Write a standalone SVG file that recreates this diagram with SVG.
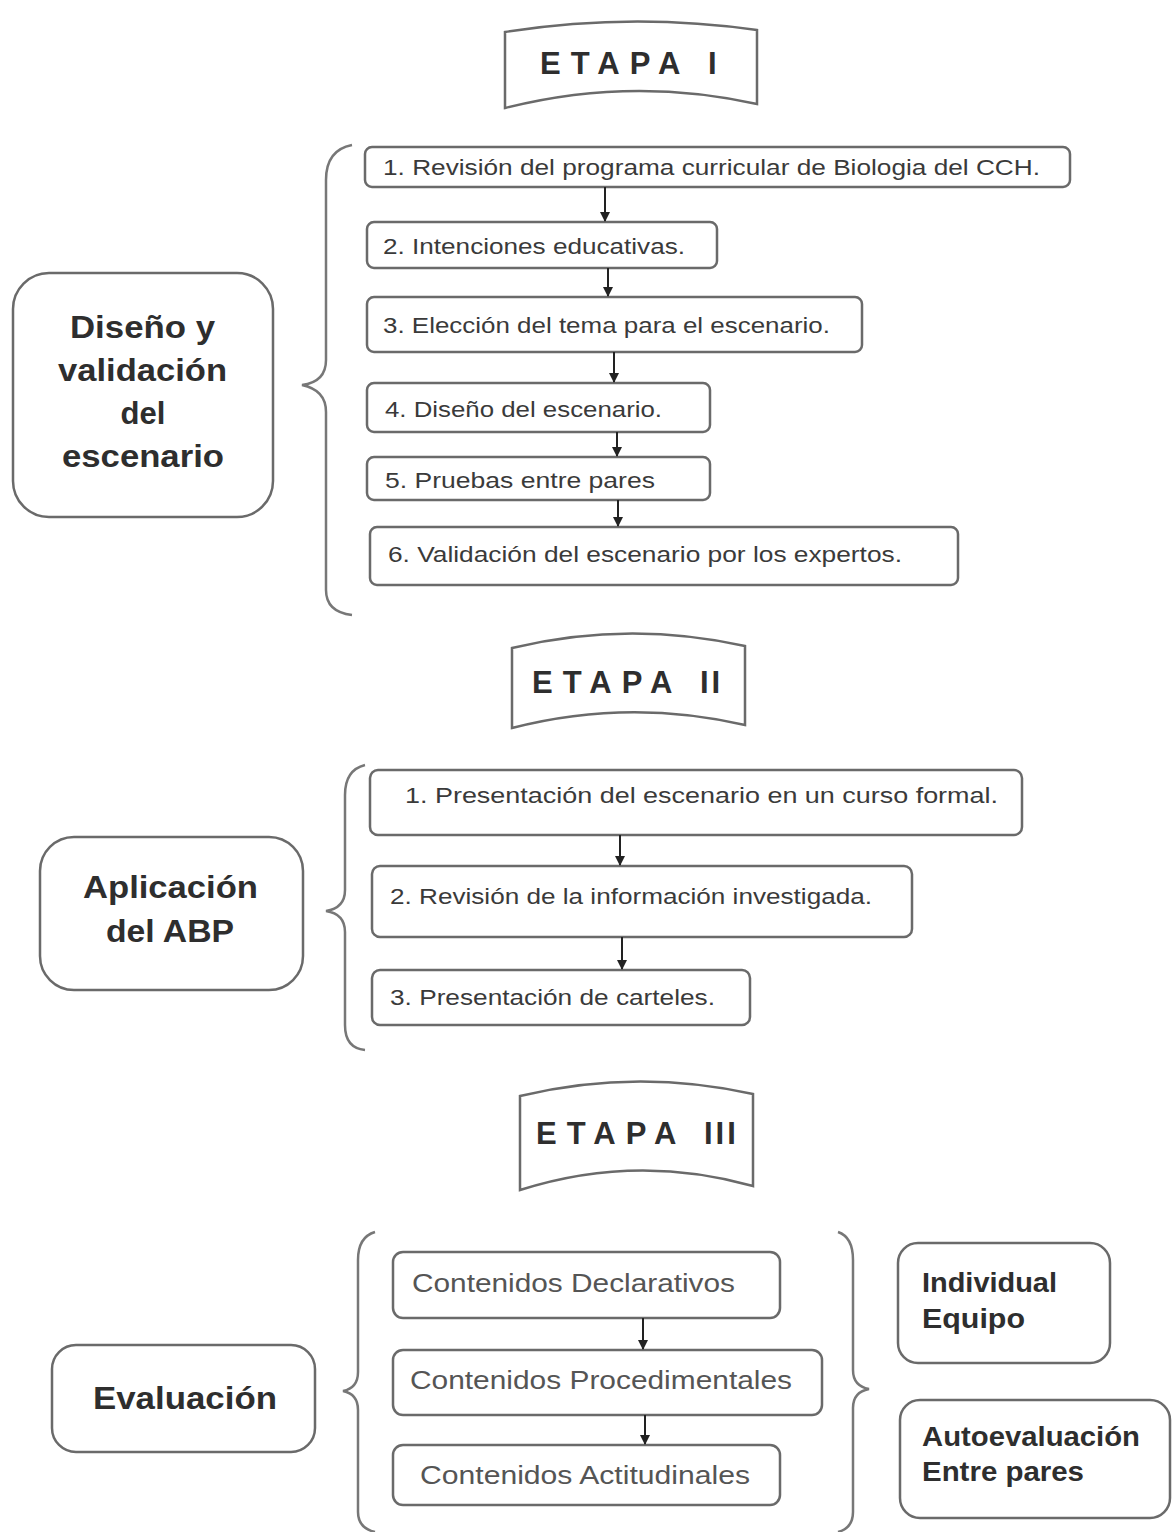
<svg xmlns="http://www.w3.org/2000/svg" width="1175" height="1532" viewBox="0 0 1175 1532">
<defs>
<style>
.box{fill:#fff;stroke:#6a6a6a;stroke-width:2.5}
.ban{fill:#fff;stroke:#6a6a6a;stroke-width:2.5}
.brace{fill:none;stroke:#777;stroke-width:2.5}
.t{font-family:"Liberation Sans",Arial,sans-serif;font-size:22px;fill:#3a3a3a}
.c{font-family:"Liberation Sans",Arial,sans-serif;font-size:26px;fill:#555}
.b{font-family:"Liberation Sans",Arial,sans-serif;font-weight:bold;font-size:31px;fill:#2e2e2e}
.s{font-family:"Liberation Sans",Arial,sans-serif;font-weight:bold;font-size:27px;fill:#2e2e2e}
.e{font-family:"Liberation Sans",Arial,sans-serif;font-weight:bold;font-size:31px;fill:#2e2e2e;letter-spacing:10px}
.n{letter-spacing:3px}
.arr{stroke:#222;stroke-width:2;fill:none;marker-end:url(#ah)}
</style>
<marker id="ah" viewBox="0 0 10 10" refX="9" refY="5" markerWidth="5" markerHeight="5" orient="auto" markerUnits="strokeWidth">
<path d="M0,0 L10,5 L0,10 Z" fill="#222"/>
</marker>
</defs>
<rect width="1175" height="1532" fill="#fff"/>

<!-- ETAPA I -->
<g id="etapa1">
<path class="ban" d="M505,32 Q631,12 757,30 L757,104 Q631,76 505,108 Z"/>
<text class="e" x="540" y="74">ETAPA <tspan class="n">I</tspan></text>
</g>

<g id="diseno">
<rect class="box" x="13" y="273" width="260" height="244" rx="36"/>
<text class="b" x="70" y="338" textLength="145" lengthAdjust="spacingAndGlyphs">Diseño y</text>
<text class="b" x="58" y="381" textLength="169" lengthAdjust="spacingAndGlyphs">validación</text>
<text class="b" x="143" y="424" text-anchor="middle">del</text>
<text class="b" x="62" y="467" textLength="162" lengthAdjust="spacingAndGlyphs">escenario</text>
</g>

<g id="s1"><rect class="box" x="365" y="147" width="705" height="40" rx="7"/>
<text class="t" x="383" y="175" textLength="657" lengthAdjust="spacingAndGlyphs">1. Revisión del programa curricular de Biologia del CCH.</text></g>
<g id="s2"><rect class="box" x="367" y="222" width="350" height="46" rx="7"/>
<text class="t" x="383" y="254" textLength="302" lengthAdjust="spacingAndGlyphs">2. Intenciones educativas.</text></g>
<g id="s3"><rect class="box" x="367" y="297" width="495" height="55" rx="7"/>
<text class="t" x="383" y="333" textLength="447" lengthAdjust="spacingAndGlyphs">3. Elección del tema para el escenario.</text></g>
<g id="s4"><rect class="box" x="367" y="383" width="343" height="49" rx="7"/>
<text class="t" x="385" y="417" textLength="277" lengthAdjust="spacingAndGlyphs">4. Diseño del escenario.</text></g>
<g id="s5"><rect class="box" x="367" y="457" width="343" height="43" rx="7"/>
<text class="t" x="385" y="488" textLength="270" lengthAdjust="spacingAndGlyphs">5. Pruebas entre pares</text></g>
<g id="s6"><rect class="box" x="370" y="527" width="588" height="58" rx="7"/>
<text class="t" x="388" y="562" textLength="514" lengthAdjust="spacingAndGlyphs">6. Validación del escenario por los expertos.</text></g>

<!-- ETAPA II -->
<g id="etapa2">
<path class="ban" d="M512,648 Q628,620 745,646 L745,725 Q628,698 512,728 Z"/>
<text class="e" x="532" y="693">ETAPA <tspan class="n">II</tspan></text>
</g>

<g id="aplicacion">
<rect class="box" x="40" y="837" width="263" height="153" rx="34"/>
<text class="b" x="83" y="898" textLength="175" lengthAdjust="spacingAndGlyphs">Aplicación</text>
<text class="b" x="106" y="942" textLength="128" lengthAdjust="spacingAndGlyphs">del ABP</text>
</g>

<g id="a1"><rect class="box" x="370" y="770" width="652" height="65" rx="8"/>
<text class="t" x="405" y="803" textLength="593" lengthAdjust="spacingAndGlyphs">1.  Presentación del escenario en un curso  formal.</text></g>
<g id="a2"><rect class="box" x="372" y="866" width="540" height="71" rx="8"/>
<text class="t" x="390" y="904" textLength="482" lengthAdjust="spacingAndGlyphs">2. Revisión de la información investigada.</text></g>
<g id="a3"><rect class="box" x="372" y="970" width="378" height="55" rx="8"/>
<text class="t" x="390" y="1005" textLength="325" lengthAdjust="spacingAndGlyphs">3. Presentación de carteles.</text></g>

<!-- ETAPA III -->
<g id="etapa3">
<path class="ban" d="M520,1096 Q636,1068 753,1094 L753,1186 Q636,1153 520,1190 Z"/>
<text class="e" x="536" y="1144">ETAPA <tspan class="n">III</tspan></text>
</g>

<g id="evaluacion">
<rect class="box" x="52" y="1345" width="263" height="107" rx="24"/>
<text class="b" x="93" y="1409" textLength="184" lengthAdjust="spacingAndGlyphs">Evaluación</text>
</g>

<g id="c1"><rect class="box" x="393" y="1252" width="387" height="66" rx="10"/>
<text class="c" x="412" y="1292" textLength="323" lengthAdjust="spacingAndGlyphs">Contenidos Declarativos</text></g>
<g id="c2"><rect class="box" x="393" y="1350" width="429" height="65" rx="10"/>
<text class="c" x="410" y="1389" textLength="382" lengthAdjust="spacingAndGlyphs">Contenidos Procedimentales</text></g>
<g id="c3"><rect class="box" x="393" y="1445" width="387" height="60" rx="10"/>
<text class="c" x="420" y="1484" textLength="330" lengthAdjust="spacingAndGlyphs">Contenidos Actitudinales</text></g>

<g id="individual">
<rect class="box" x="898" y="1243" width="212" height="120" rx="20"/>
<text class="s" x="922" y="1292" textLength="135" lengthAdjust="spacingAndGlyphs">Individual</text>
<text class="s" x="922" y="1328" textLength="103" lengthAdjust="spacingAndGlyphs">Equipo</text>
</g>
<g id="autoevaluacion">
<rect class="box" x="900" y="1400" width="270" height="118" rx="20"/>
<text class="s" x="922" y="1446" textLength="218" lengthAdjust="spacingAndGlyphs">Autoevaluación</text>
<text class="s" x="922" y="1481" textLength="162" lengthAdjust="spacingAndGlyphs">Entre pares</text>
</g>

<g id="connectors">
<line class="arr" x1="605" y1="187" x2="605" y2="221"/>
<line class="arr" x1="608" y1="268" x2="608" y2="296"/>
<line class="arr" x1="614" y1="352" x2="614" y2="382"/>
<line class="arr" x1="617" y1="432" x2="617" y2="456"/>
<line class="arr" x1="618" y1="500" x2="618" y2="526"/>
<line class="arr" x1="620" y1="835" x2="620" y2="865"/>
<line class="arr" x1="622" y1="937" x2="622" y2="969"/>
<line class="arr" x1="643" y1="1318" x2="643" y2="1349"/>
<line class="arr" x1="645" y1="1415" x2="645" y2="1444"/>
<path class="brace" d="M352,145 Q326,150 326,180 L326,360 Q326,382 302,385 Q326,390 326,412 L326,590 Q326,612 352,615"/>
<path class="brace" d="M365,765 Q345,770 345,795 L345,890 Q345,908 326,911 Q345,914 345,932 L345,1025 Q345,1048 365,1050"/>
<path class="brace" d="M375,1232 Q358,1237 358,1260 L358,1372 Q358,1388 343,1391 Q358,1394 358,1410 L358,1512 Q358,1528 375,1532"/>
<path class="brace" d="M838,1232 Q853,1237 853,1260 L853,1370 Q853,1386 869,1389 Q853,1392 853,1408 L853,1512 Q853,1528 838,1532"/>
</g>
</svg>
